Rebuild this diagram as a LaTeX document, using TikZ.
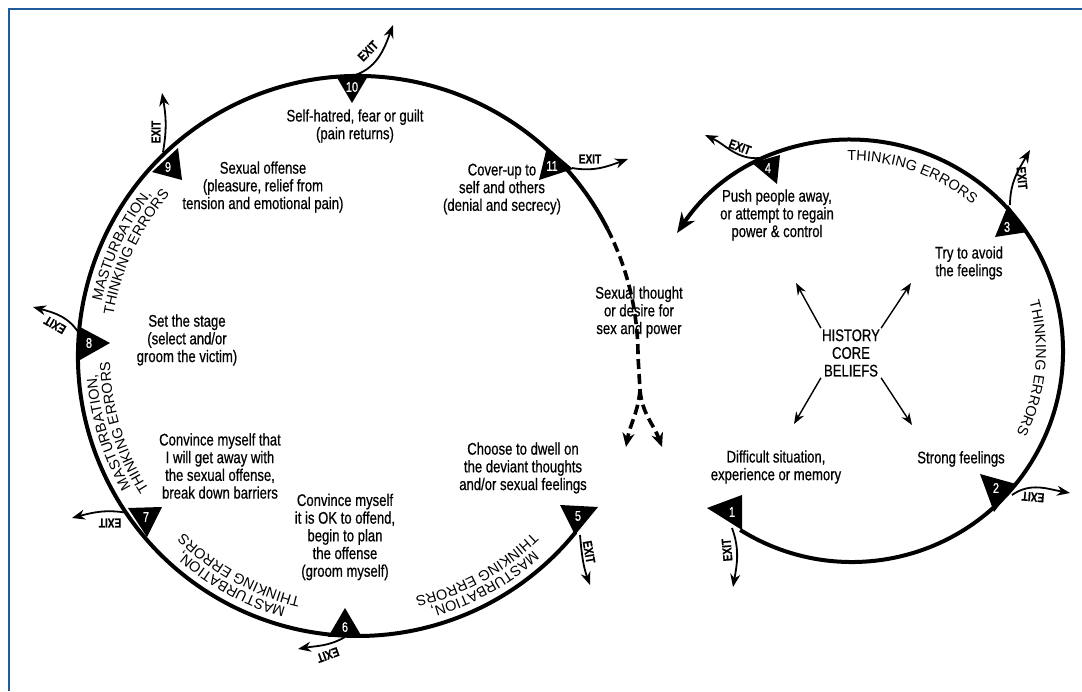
\documentclass[tikz,border=0pt]{standalone}
\usepackage{fontspec}
\setmainfont[FakeStretch=0.78,FakeBold=0.6]{Liberation Sans}
\newfontfamily\capsfont{Liberation Sans}
\usetikzlibrary{arrows.meta,decorations.text,calc}
\definecolor{framecol}{HTML}{1F5C9C}

\begin{document}
\begin{tikzpicture}[x=1pt,y=1pt,
  ring/.style={line width=4pt},
  dashring/.style={line width=3.6pt,dash pattern=on 10pt off 5pt},
  exitarr/.style={-{Stealth[length=13pt,width=10pt]},line width=1.8pt},
  exitlbl/.style={font=\fontsize{13}{13}\selectfont\bfseries,inner sep=0pt},
  stage/.style={align=center,font=\fontsize{16.8}{17.7}\selectfont,inner sep=1pt},
  num/.style={text=white,font=\fontsize{14}{14}\selectfont,inner sep=0pt},
  ray/.style={-{Stealth[length=12pt,width=9pt]},line width=1.4pt},
  bent/.style={decorate,decoration={text along path,text align=center,
    text={|\capsfont\fontsize{14.5}{14.5}\selectfont|#1}}}]
  \useasboundingbox (0,0) rectangle (1082,691);
  \draw[framecol,line width=2pt] (9,0) -- (9,682) -- (1082,682);

  \coordinate (lc) at (358,335);
  \coordinate (rc) at (852,340);

  % left cycle: 5 round to 11, then back to the urge
  \draw[ring] ([shift={(lc)}]27:280pt) arc[start angle=27,end angle=321,radius=280pt];
  \coordinate (split) at (640,301);
  \coordinate (dl) at (626,244);
  \coordinate (dr) at (662,244);
  \draw[dashring] ([shift={(lc)}]27:280pt) arc[start angle=27,end angle=0,radius=280pt] -- (split);
  \draw[dashring,-{Stealth[length=14pt,width=12pt]}] (split) to[out=-95,in=80] (dl);
  \draw[dashring,-{Stealth[length=14pt,width=12pt]}] (split) to[out=-85,in=110] (dr);

  % right cycle: 1 round to 4
  \draw[ring,-{Stealth[length=20pt,width=16pt]}] ([shift={(rc)}]238:211pt) arc[start angle=238,end angle=506,radius=211pt];

  % markers
  \fill (336,615) -- (368,615) -- (352,588) -- cycle;
  \fill (547,544) -- (539,511) -- (573,522) -- cycle;
  \fill (178,543) -- (152,519) -- (182,511) -- cycle;
  \fill (80,364) -- (80,331) -- (110,348) -- cycle;
  \fill (128,183) -- (162,184) -- (147,154) -- cycle;
  \fill (328,54) -- (362,54) -- (345,83) -- cycle;
  \fill (560,186) -- (598,184) -- (575,156) -- cycle;
  \fill (707,183) -- (742,196) -- (742,161) -- cycle;
  \fill (980,217) -- (1016,207) -- (994,179) -- cycle;
  \fill (995,454) -- (1008,486) -- (1028,459) -- cycle;
  \fill (752,528) -- (780,536) -- (777,507) -- cycle;
  \node[num] (n10) at (352,604) {10};
  \node[num] (n11) at (552,525) {11};
  \node[num] (n9) at (168,524) {9};
  \node[num] (n8) at (89,348) {8};
  \node[num] (n7) at (146,174) {7};
  \node[num] (n6) at (345,64) {6};
  \node[num] (n5) at (578,175) {5};
  \node[num] (n1) at (732,179) {1};
  \node[num] (n2) at (996,203) {2};
  \node[num] (n3) at (1007,464) {3};
  \node[num] (n4) at (768,523) {4};

  % exits
  \coordinate (x10) at (352,615); \coordinate (t10) at (393,666);
  \coordinate (x11) at (572,523); \coordinate (t11) at (628,532);
  \coordinate (x9) at (163,539);  \coordinate (t9) at (162,598);
  \coordinate (x8) at (80,356);   \coordinate (t8) at (33,384);
  \coordinate (x7) at (128,178);  \coordinate (t7) at (72,173);
  \coordinate (x6) at (345,54);   \coordinate (t6) at (298,42);
  \coordinate (x5) at (580,156);  \coordinate (t5) at (590,106);
  \coordinate (x4) at (760,533);  \coordinate (t4) at (705,556);
  \coordinate (x3) at (1010,486); \coordinate (t3) at (1030,541);
  \coordinate (x2) at (1012,196); \coordinate (t2) at (1070,198);
  \coordinate (x1) at (732,163);  \coordinate (t1) at (733,104);
  \draw[exitarr] (x10) to[out=15,in=250] (t10);
  \draw[exitarr] (x11) to[out=-10,in=200] (t11);
  \draw[exitarr] (x9) to[out=80,in=-80] (t9);
  \draw[exitarr] (x8) to[out=120,in=-15] (t8);
  \draw[exitarr] (x7) to[out=170,in=15] (t7);
  \draw[exitarr] (x6) to[out=210,in=10] (t6);
  \draw[exitarr] (x5) to[out=-85,in=110] (t5);
  \draw[exitarr] (x4) to[out=185,in=-25] (t4);
  \draw[exitarr] (x3) to[out=90,in=240] (t3);
  \draw[exitarr] (x2) to[out=35,in=170] (t2);
  \draw[exitarr] (x1) to[out=-70,in=80] (t1);
  \node[exitlbl,rotate=45] (l10) at (368,640) {EXIT};
  \node[exitlbl] (l11) at (590,532) {EXIT};
  \node[exitlbl,rotate=90] (l9) at (156,559) {EXIT};
  \node[exitlbl,rotate=150] (l8) at (55,366) {EXIT};
  \node[exitlbl,rotate=180] (l7) at (110,168) {EXIT};
  \node[exitlbl,rotate=200] (l6) at (328,36) {EXIT};
  \node[exitlbl,rotate=-80] (l5) at (589,139) {EXIT};
  \node[exitlbl,rotate=-20] (l4) at (740,544) {EXIT};
  \node[exitlbl,rotate=-85] (l3) at (1022,513) {EXIT};
  \node[exitlbl,rotate=175] (l2) at (1033,194) {EXIT};
  \node[exitlbl,rotate=95] (l1) at (727,141) {EXIT};

  % curved labels
  \path[bent={MASTURBATION,}] ([shift={(lc)}]175:262pt) arc[start angle=175,end angle=135,radius=262pt];
  \path[bent={THINKING ERRORS}] ([shift={(lc)}]175:248pt) arc[start angle=175,end angle=135,radius=248pt];
  \path[bent={MASTURBATION,}] ([shift={(lc)}]217:262pt) arc[start angle=217,end angle=177,radius=262pt];
  \path[bent={THINKING ERRORS}] ([shift={(lc)}]217:248pt) arc[start angle=217,end angle=177,radius=248pt];
  \path[bent={MASTURBATION,}] ([shift={(lc)}]261:262pt) arc[start angle=261,end angle=221,radius=262pt];
  \path[bent={THINKING ERRORS}] ([shift={(lc)}]261:248pt) arc[start angle=261,end angle=221,radius=248pt];
  \path[bent={MASTURBATION,}] ([shift={(lc)}]-40:262pt) arc[start angle=-40,end angle=-82,radius=262pt];
  \path[bent={THINKING ERRORS}] ([shift={(lc)}]-40:248pt) arc[start angle=-40,end angle=-82,radius=248pt];
  \path[bent={THINKING ERRORS}] ([shift={(rc)}]100:190pt) arc[start angle=100,end angle=42,radius=190pt];
  \path[bent={THINKING ERRORS}] ([shift={(rc)}]20:184pt) arc[start angle=20,end angle=-31,radius=184pt];

  % stages
  \node[stage] (s10) at (355,565) {Self-hatred, fear or guilt\\(pain returns)};
  \node[stage] (s9) at (263,504) {Sexual offense\\(pleasure, relief from\\tension and emotional pain)};
  \node[stage] (s11) at (502,502) {Cover-up to\\self and others\\(denial and secrecy)};
  \node[stage] (s8) at (187,351) {Set the stage\\(select and/or\\groom the victim)};
  \node[stage] (s7) at (220,225) {Convince myself that\\I will get away with\\the sexual offense,\\break down barriers};
  \node[stage] (s6) at (345,154) {Convince myself\\it is OK to offend,\\begin to plan\\the offense\\(groom myself)};
  \node[stage] (s5) at (523,223) {Choose to dwell on\\the deviant thoughts\\and/or sexual feelings};
  \node[stage] (urge) at (639,379) {Sexual thought\\or desire for\\sex and power};
  \node[stage] (s4) at (777,476) {Push people away,\\or attempt to regain\\power \& control};
  \node[stage] (s3) at (969,428) {Try to avoid\\the feelings};
  \node[stage] (s2) at (961,232) {Strong feelings};
  \node[stage] (s1) at (776,224) {Difficult situation,\\experience or memory};
  \node[stage] (core) at (851,338) {HISTORY\\CORE\\BELIEFS};
  \coordinate (rayNW) at (796,408);
  \coordinate (rayNE) at (911,408);
  \coordinate (raySW) at (794,267);
  \coordinate (raySE) at (912,266);
  \draw[ray] (core.north west) -- (rayNW);
  \draw[ray] (core.north east) -- (rayNE);
  \draw[ray] (core.south west) -- (raySW);
  \draw[ray] (core.south east) -- (raySE);
\end{tikzpicture}
\end{document}
